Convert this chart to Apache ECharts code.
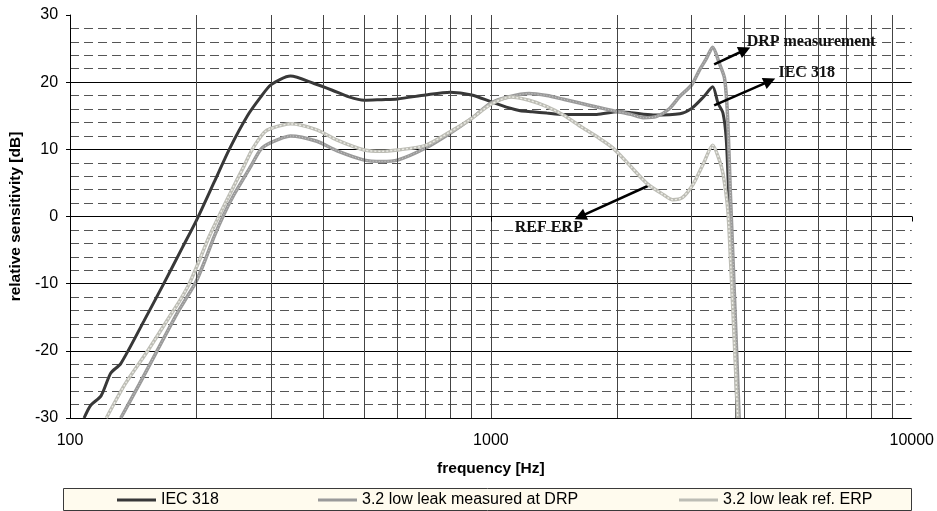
<!DOCTYPE html>
<html>
<head>
<meta charset="utf-8">
<script src="https://cdn.jsdelivr.net/npm/echarts@6/dist/echarts.min.js"></script>
<style>
  html, body { margin: 0; padding: 0; background: #ffffff; }
  #chart { width: 937px; height: 511px; }
</style>
</head>
<body>
<div id="chart"></div>
<script>
// Relative sensitivity (dB) against frequency (Hz) for each measurement.
const iecFreq = [108, 112, 118.5, 125, 132, 150, 167, 185, 200, 220, 239, 264, 284, 300, 334, 380, 420, 460, 500, 550, 600, 700, 800, 900, 1000, 1100, 1174, 1254, 1358, 1487, 1640, 1784, 2000, 2153, 2431, 2812, 3000, 3200, 3365, 3465, 3560, 3625, 3680, 3750, 3812, 3840];
const iecDb   = [-30, -28.1, -26.7, -23.3, -21.9, -15.5, -10, -4.6, -0.5, 5.1, 10, 15, 17.8, 19.6, 20.9, 19.8, 18.8, 17.8, 17.3, 17.4, 17.5, 18.1, 18.5, 18.1, 17.1, 16.2, 15.75, 15.6, 15.4, 15.2, 15.2, 15.2, 15.6, 15.45, 15.1, 15.3, 16.1, 17.8, 19.3, 16.85, 15.4, 11.4, 2, -10, -20, -30];

const drpFreq = [132, 146, 161, 179, 190, 199, 210, 220, 232, 245, 269, 284, 300, 334, 386, 430, 500, 550, 600, 700, 800, 900, 1000, 1100, 1232, 1358, 1487, 1635, 1784, 1954, 2153, 2300, 2478, 2650, 2812, 3000, 3130, 3250, 3365, 3490, 3590, 3650, 3710, 3770, 3830, 3890];
const drpDb   = [-30, -25, -20, -14.6, -11.9, -9.8, -6.3, -3, 0.3, 3.2, 7.5, 10, 11.0, 12.0, 11.2, 9.8, 8.4, 8.2, 8.4, 10.2, 12.4, 14.6, 16.9, 17.8, 18.3, 18.0, 17.45, 16.85, 16.3, 15.75, 15.2, 14.7, 14.9, 16.0, 17.9, 19.6, 21.8, 23.5, 25.2, 22.8, 20.6, 15, 3, -8, -19, -30];

const erpFreq = [122, 135, 153, 172, 182, 192, 203, 214, 236, 259, 271, 289, 300, 334, 386, 430, 500, 550, 600, 700, 800, 900, 1000, 1114, 1232, 1358, 1487, 1635, 1784, 1954, 2153, 2350, 2578, 2703, 2850, 3030, 3200, 3365, 3490, 3560, 3655, 3720, 3790, 3860];
const erpDb   = [-30, -25, -20, -15, -12.6, -10, -6.5, -3, 2.5, 7.5, 10, 12.5, 13.1, 13.8, 12.9, 11.4, 9.9, 9.7, 9.9, 10.6, 12.6, 14.6, 16.7, 17.8, 17.3, 16.35, 15.1, 13.4, 11.9, 10.15, 7.4, 4.9, 3.2, 2.5, 2.8, 4.9, 7.9, 10.6, 8.4, 6.4, 1.0, -8, -19, -30];

const seriesNames = ['IEC 318', '3.2 low leak measured at DRP', '3.2 low leak ref. ERP'];

// Frequencies of the intermediate vertical grid lines (decades come from the axis).
const gridFreqs = [200, 300, 400, 500, 600, 700, 800, 900, 2000, 3000, 4000, 5000, 6000, 7000, 8000, 9000];

// Callout labels with their arrows, in (Hz, dB).
const callouts = [
  { text: 'DRP measurement', at: [5767, 26.0], from: [3392, 22.66], to: [4012, 24.79] },
  { text: 'IEC 318',         at: [5627, 21.44], from: [3392, 16.55], to: [4597, 20.17] },
  { text: 'REF ERP',         at: [1372, -1.64], from: [2387, 4.69], to: [1629, -0.03] }
];

const pairs = (f, v) => f.map((x, i) => [x, v[i]]);

const chart = echarts.init(document.getElementById('chart'), null, { renderer: 'canvas' });

const legendCommon = {
  orient: 'horizontal',
  top: 492,
  padding: 0,
  itemGap: 0,
  itemWidth: 39,
  itemHeight: 3,
  icon: 'rect',
  textStyle: { fontSize: 16, color: '#000', fontFamily: 'Liberation Sans, Arial, sans-serif' }
};

chart.setOption({
  animation: false,
  backgroundColor: '#ffffff',
  textStyle: { fontFamily: 'Liberation Sans, Arial, sans-serif' },
  grid: { left: 69, right: 25, top: 15, bottom: 93, containLabel: false },
  legend: [
    Object.assign({ data: [seriesNames[0]], left: 117 }, legendCommon),
    Object.assign({ data: [seriesNames[1]], left: 318 }, legendCommon),
    Object.assign({ data: [seriesNames[2]], left: 679 }, legendCommon)
  ],
  graphic: [{
    type: 'rect',
    z: 0,
    shape: { x: 63.5, y: 488.5, width: 848, height: 22 },
    style: { fill: '#fffbee', stroke: '#3a3a3a', lineWidth: 1 }
  }],
  xAxis: {
    type: 'log',
    logBase: 10,
    min: 100,
    max: 10000,
    name: 'frequency [Hz]',
    nameLocation: 'middle',
    nameGap: 43,
    nameTextStyle: { fontSize: 15.5, fontWeight: 'bold', color: '#000' },
    axisLine: { show: true, lineStyle: { color: '#000', width: 1 } },
    axisTick: { show: true, length: 5, lineStyle: { color: '#000' } },
    axisLabel: { fontSize: 16, color: '#000', margin: 15, formatter: v => String(Math.round(v)) },
    splitLine: { show: true, showMinLine: false, showMaxLine: false, lineStyle: { color: '#444', width: 1 } },
    minorTick: { show: false },
    minorSplitLine: { show: false }
  },
  yAxis: {
    type: 'value',
    min: -30,
    max: 30,
    interval: 10,
    name: 'relative sensitivity [dB]',
    nameLocation: 'middle',
    nameGap: 41,
    nameTextStyle: { fontSize: 15.5, fontWeight: 'bold', color: '#000' },
    axisLine: { show: true, onZero: false, lineStyle: { color: '#000', width: 1 } },
    axisTick: { show: true, length: 4, lineStyle: { color: '#000' } },
    axisLabel: { fontSize: 16, color: '#000', margin: 12 },
    splitLine: { show: true, showMaxLine: false, lineStyle: { color: '#000', width: 1 } },
    minorTick: { show: false, splitNumber: 5 },
    minorSplitLine: { show: true, lineStyle: { color: '#555', width: 1, type: [9, 5] } }
  },
  series: [
    {
      // intermediate vertical grid lines
      type: 'line',
      data: [],
      z: 1,
      silent: true,
      markLine: {
        silent: true,
        symbol: ['none', 'none'],
        label: { show: false },
        lineStyle: { color: '#444', width: 1, type: 'solid' },
        emphasis: { disabled: true },
        data: gridFreqs.map(f => ({ xAxis: f }))
      }
    },
    {
      name: seriesNames[0],
      type: 'line',
      data: pairs(iecFreq, iecDb),
      color: '#383838',
      showSymbol: false,
      symbol: 'none',
      smooth: 0.25,
      z: 3,
      lineStyle: { color: '#383838', width: 3 }
    },
    {
      name: seriesNames[1],
      type: 'line',
      data: pairs(drpFreq, drpDb),
      color: '#9a9a9a',
      showSymbol: false,
      symbol: 'none',
      smooth: 0.25,
      z: 4,
      lineStyle: { color: '#9a9a9a', width: 3.5 }
    },
    {
      name: seriesNames[1],
      type: 'line',
      data: pairs(drpFreq, drpDb),
      color: '#9a9a9a',
      showSymbol: false,
      symbol: 'none',
      smooth: 0.25,
      silent: true,
      z: 4,
      lineStyle: { color: '#cacaca', width: 1, type: [1, 2] }
    },
    {
      name: seriesNames[2],
      type: 'line',
      data: pairs(erpFreq, erpDb),
      color: '#bdbdb5',
      showSymbol: false,
      symbol: 'none',
      smooth: 0.25,
      z: 5,
      lineStyle: { color: '#bdbdb5', width: 3.5 }
    },
    {
      name: seriesNames[2],
      type: 'line',
      data: pairs(erpFreq, erpDb),
      color: '#bdbdb5',
      showSymbol: false,
      symbol: 'none',
      smooth: 0.25,
      silent: true,
      z: 5,
      lineStyle: { color: '#ebebe5', width: 1.4, type: [2, 2] }
    },
    {
      // callout arrows and labels
      type: 'line',
      data: [],
      z: 6,
      silent: true,
      markLine: {
        silent: true,
        symbol: ['none', 'triangle'],
        symbolSize: 12,
        label: { show: false },
        emphasis: { disabled: true },
        itemStyle: { color: '#000' },
        lineStyle: { color: '#000', width: 2.5, type: 'solid' },
        data: callouts.map(c => [{ coord: c.from }, { coord: c.to }])
      },
      markPoint: {
        silent: true,
        symbol: 'circle',
        symbolSize: 0,
        itemStyle: { color: 'transparent' },
        label: {
          show: true,
          position: 'inside',
          formatter: '{b}',
          fontFamily: 'Liberation Serif, Times New Roman, serif',
          fontWeight: 'bold',
          fontSize: 16,
          color: '#111'
        },
        data: callouts.map(c => ({ name: c.text, coord: c.at }))
      }
    }
  ]
});
</script>
</body>
</html>
